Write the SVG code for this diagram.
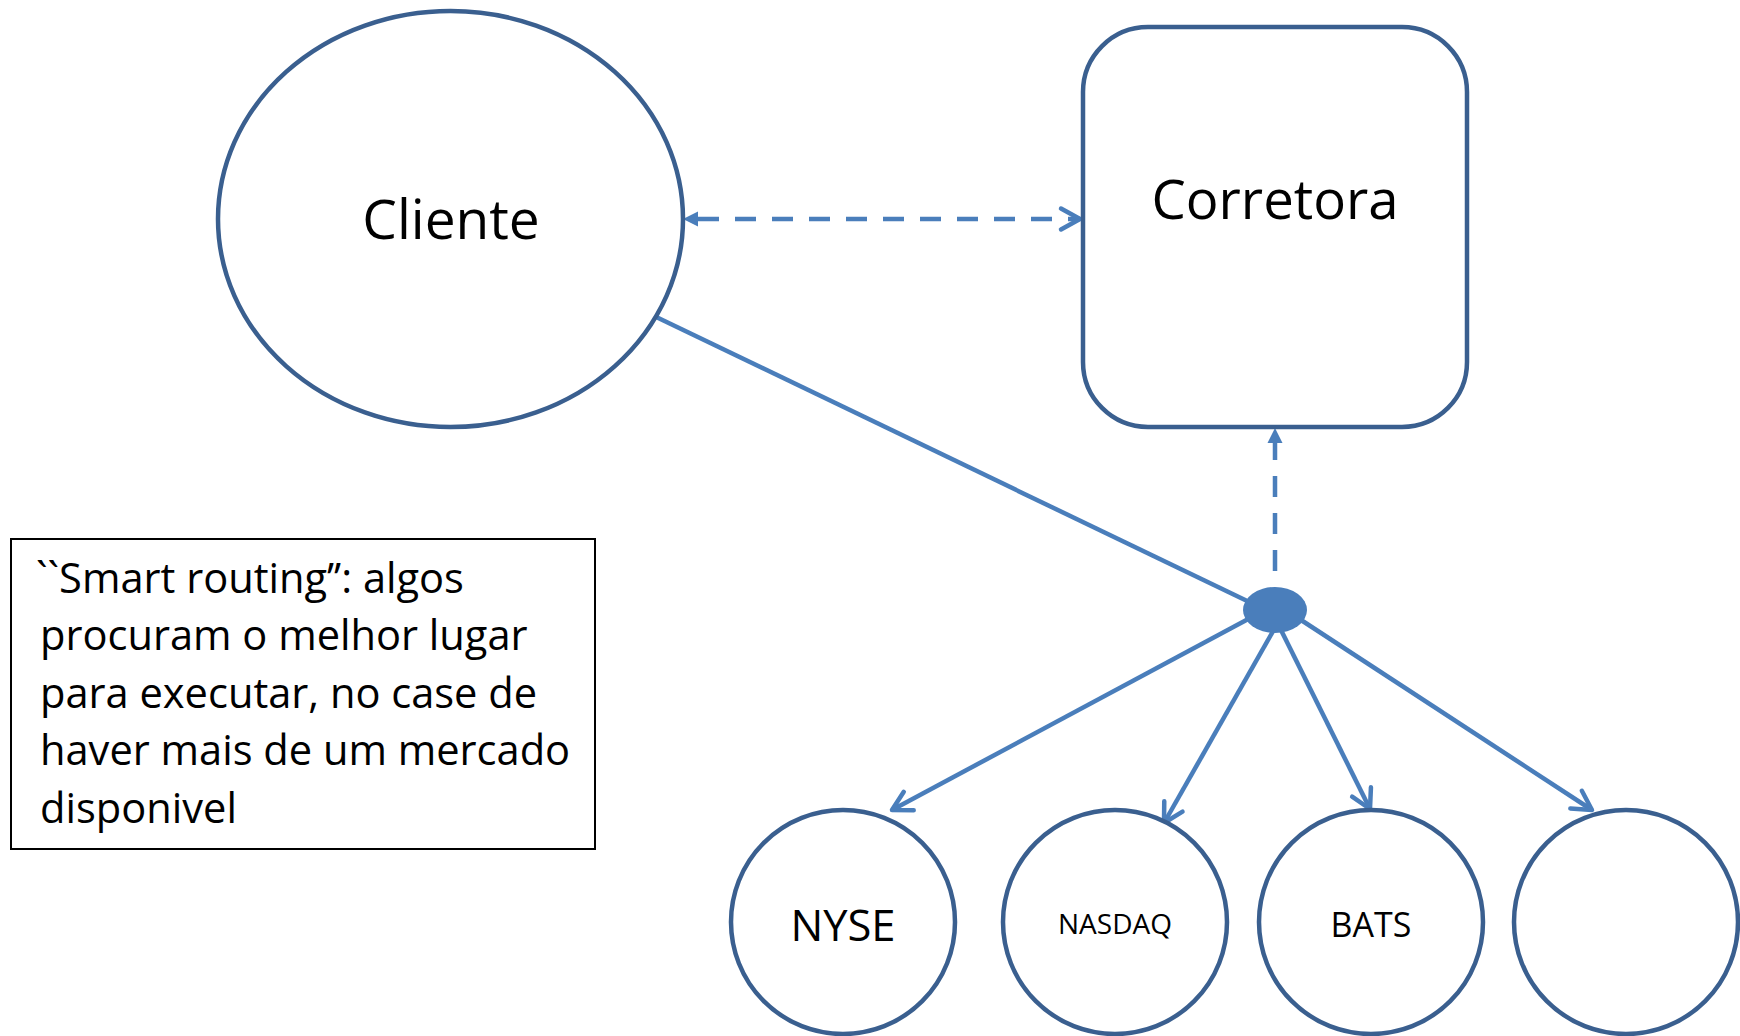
<svg xmlns="http://www.w3.org/2000/svg" width="1740" height="1036" viewBox="0 0 1740 1036">
<style>
.node{fill:#ffffff;stroke:#3a5f8f;stroke-width:4.5}
.lbl{font-family:"Open Sans","Noto Sans",sans-serif;fill:#000000;text-anchor:middle}
.conn{stroke:#4a7ebb;stroke-width:4.5;fill:none}
.dash{stroke-dasharray:21 16}
.note{font-family:"Open Sans","Noto Sans",sans-serif;font-size:41.6px;fill:#000000}
</style>
<defs>
<marker id="tri" markerUnits="userSpaceOnUse" orient="auto-start-reverse" overflow="visible" refX="0" refY="0" markerWidth="1" markerHeight="1">
<path d="M0,-7.5 L15,0 L0,7.5 Z" fill="#4a7ebb"/>
</marker>
<marker id="open" markerUnits="userSpaceOnUse" orient="auto" overflow="visible" refX="0" refY="0" markerWidth="1" markerHeight="1">
<path d="M-19,-10.5 L0,0 L-19,10.5" fill="none" stroke="#4a7ebb" stroke-width="4.5" stroke-linecap="round" stroke-linejoin="round"/>
</marker>
</defs>
<rect width="1740" height="1036" fill="#ffffff"/>

<g id="connectors">
<line class="conn dash" x1="698" y1="219" x2="1080" y2="219" marker-start="url(#tri)" marker-end="url(#open)"/>
<line class="conn dash" x1="1275" y1="571" x2="1275" y2="443" marker-end="url(#tri)"/>
<line class="conn" x1="652" y1="315" x2="1268" y2="611"/>
<line class="conn" x1="1252" y1="617" x2="892" y2="810" marker-end="url(#open)"/>
<line class="conn" x1="1276" y1="626" x2="1164" y2="823" marker-end="url(#open)"/>
<line class="conn" x1="1279" y1="626" x2="1370" y2="809" marker-end="url(#open)"/>
<line class="conn" x1="1298" y1="618" x2="1592" y2="810" marker-end="url(#open)"/>
</g>

<g id="cliente">
<ellipse class="node" cx="450.5" cy="219" rx="232.5" ry="208"/>
<text class="lbl" x="451" y="239" font-size="55">Cliente</text>
</g>

<g id="corretora">
<rect class="node" x="1083" y="27" width="384" height="400" rx="65" ry="65"/>
<text class="lbl" x="1275" y="219" font-size="54.5">Corretora</text>
</g>

<g id="hub">
<ellipse cx="1275" cy="610" rx="32" ry="23" fill="#4a7ebb"/>
</g>

<g id="nyse">
<circle class="node" cx="843" cy="922" r="112"/>
<text class="lbl" x="843" y="941" font-size="43.5">NYSE</text>
</g>

<g id="nasdaq">
<circle class="node" cx="1115" cy="922" r="112"/>
<text class="lbl" x="1115" y="934" font-size="28">NASDAQ</text>
</g>

<g id="bats">
<circle class="node" cx="1371" cy="922" r="112"/>
<text class="lbl" x="1371" y="937" font-size="34">BATS</text>
</g>

<g id="other">
<circle class="node" cx="1626" cy="922" r="112"/>
</g>

<g id="note">
<rect x="11" y="539" width="584" height="310" fill="#ffffff" stroke="#000000" stroke-width="2"/>
<text class="note" x="36" y="593">``Smart routing’’: algos</text>
<text class="note" x="40" y="650">procuram o melhor lugar</text>
<text class="note" x="40" y="708">para executar, no case de</text>
<text class="note" x="40" y="765">haver mais de um mercado</text>
<text class="note" x="40" y="823">disponivel</text>
</g>
</svg>
